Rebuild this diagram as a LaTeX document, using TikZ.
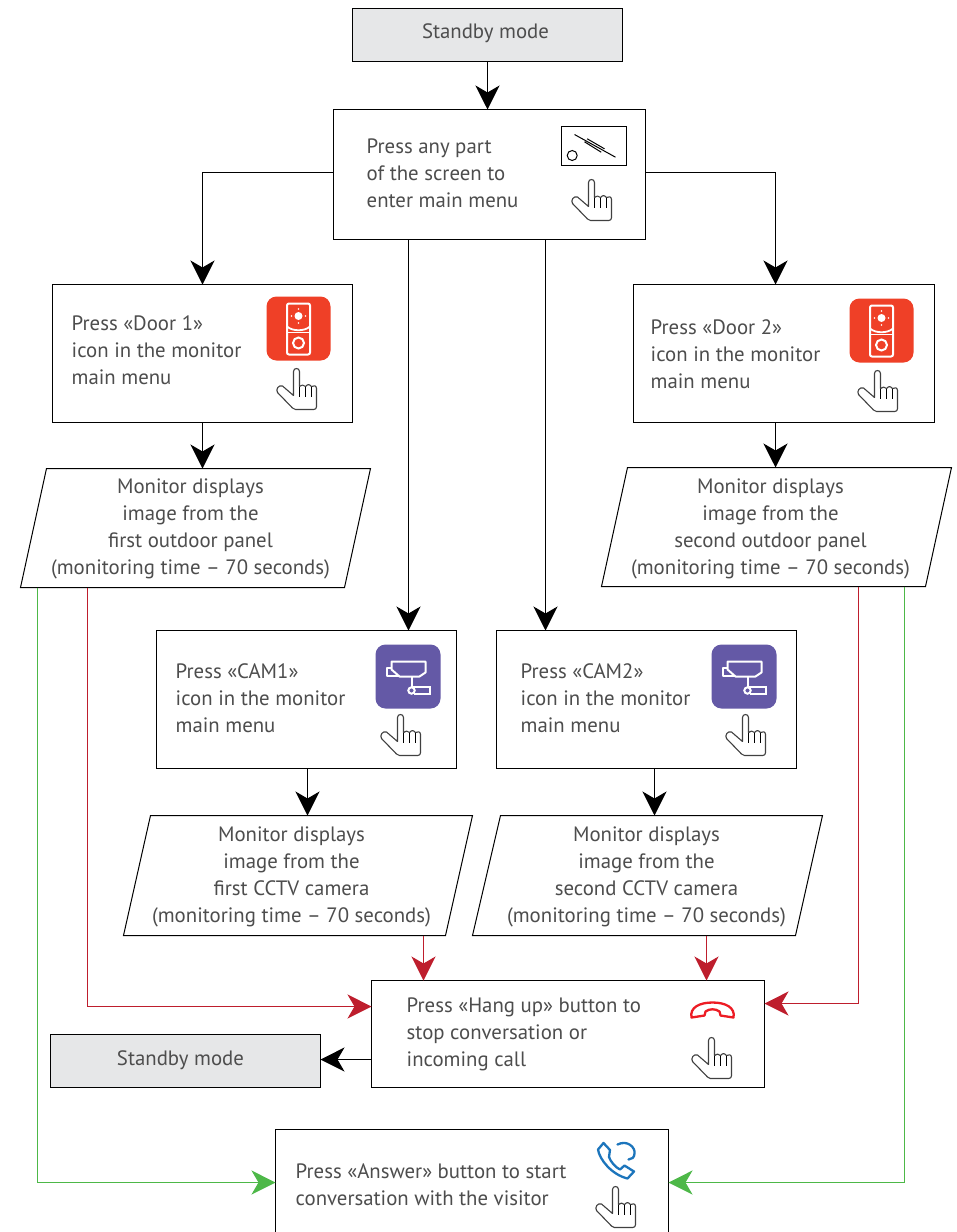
\documentclass[tikz,border=0pt]{standalone}
\usepackage{fontspec}
\setmainfont{PT Sans}
\usetikzlibrary{arrows.meta}
\definecolor{txt}{HTML}{4D4D4D}
\definecolor{bargray}{HTML}{E6E7E8}
\definecolor{redline}{HTML}{BE1E2D}
\definecolor{greenline}{HTML}{4DB848}
\definecolor{dooricon}{HTML}{EF4027}
\definecolor{camicon}{HTML}{6459A6}
\definecolor{hangred}{HTML}{ED1C24}
\definecolor{ansblue}{HTML}{1C75BC}
\tikzset{
 x=1pt,y=-1pt,
 boxline/.style={draw=black,line width=1pt,fill=white,outer sep=0pt},
 graybox/.style={draw=black,line width=1pt,fill=bargray,outer sep=0pt},
 label/.style={text=txt,font=\fontsize{20.8}{27}\selectfont,inner sep=0pt},
 llabel/.style={label,align=left,anchor=west},
 clabel/.style={label,align=center,anchor=center},
 tip/.style={-{Stealth[length=24pt,width=24pt,inset=7pt]}},
 arrowk/.style={tip,draw=black,line width=1pt},
 arrowr/.style={tip,draw=redline,line width=1pt},
 arrowg/.style={tip,draw=greenline,line width=1pt},
 handicon/.pic={
  \draw[draw=black!75,line width=1.1pt,line join=round,fill=white]
   (17,3) .. controls (17,-1) and (23,-1) .. (23,3) -- (23,18)
   .. controls (25,16) and (27,16) .. (29,18) .. controls (31,15.5) and (33,15.5) .. (35,18)
   .. controls (37,16.5) and (40,17) .. (40,20) -- (40,38) .. controls (40,40) and (39,41) .. (37,41)
   -- (19,41) .. controls (18,41) and (17,40.5) .. (16,39.5)
   -- (1,24) .. controls (-1,21) and (2,16) .. (6,17.5) -- (17,27) -- cycle;
  \draw[draw=black,line width=1pt] (23,18) -- (23,28) (29,18) -- (29,28) (35,18) -- (35,28);
 },
 dooricn/.pic={
  \fill[dooricon,rounded corners=10pt] (0,0) rectangle (64,64);
  \draw[white,line width=2pt,rounded corners=2pt] (20.5,7) rectangle (43.5,58);
  \draw[white,line width=1.8pt] (20.5,30) .. controls (26,35) and (38,35) .. (43.5,30);
  \draw[white,line width=1.8pt] (20.5,36) -- (43.5,36);
  \fill[white] (32,19.5) circle (4);
  \fill[white] (32,12.5) circle (.8) (32,26.5) circle (.8) (25,19.5) circle (.8) (39,19.5) circle (.8);
  \draw[white,line width=2pt] (32,46.5) circle (5.5);
 },
 camicn/.pic={
  \fill[camicon,rounded corners=10pt] (0,0) rectangle (65,64);
  \draw[white,line width=2pt,line join=round] (16,17) -- (50,17) -- (50,28) -- (44,32) -- (24,32) -- (16,25) -- cycle;
  \draw[white,line width=2pt,line join=round] (16,23) -- (11,23) -- (11,31) -- (23,31);
  \draw[white,line width=2pt] (36,32) -- (36,42) (35,42) -- (54,42) -- (54,49.5) -- (38,49.5);
  \draw[white,line width=2pt] (36,46) circle (3.2);
 },
}
\begin{document}
\begin{tikzpicture}
\useasboundingbox (0,0) rectangle (957,1232);
\fill[white] (0,0) rectangle (957,1232);
\begin{scope}[shift={(-.5,-.5)}]

% rectangular boxes
\node[graybox,minimum width=270pt,minimum height=53pt,inner sep=0pt,anchor=north west] (s1) at (353,9) {};
\node[boxline,minimum width=312pt,minimum height=130pt,inner sep=0pt,anchor=north west] (press) at (334,110) {};
\node[boxline,minimum width=300pt,minimum height=138pt,inner sep=0pt,anchor=north west] (d1) at (53,285) {};
\node[boxline,minimum width=301pt,minimum height=138pt,inner sep=0pt,anchor=north west] (d2) at (634,285) {};
\node[boxline,minimum width=300pt,minimum height=138pt,inner sep=0pt,anchor=north west] (c1) at (157,631) {};
\node[boxline,minimum width=300pt,minimum height=138pt,inner sep=0pt,anchor=north west] (c2) at (497,631) {};
\node[boxline,minimum width=393pt,minimum height=107pt,inner sep=0pt,anchor=north west] (hang) at (372,981) {};
\node[graybox,minimum width=270pt,minimum height=53pt,inner sep=0pt,anchor=north west] (s2) at (51,1035) {};
\node[boxline,minimum width=393pt,minimum height=112pt,inner sep=0pt,anchor=north west] (ans) at (276,1130) {};

% parallelograms
\draw[boxline] (47,469) coordinate (m1t) -- (371,469) -- (345,588) -- (21,588) coordinate (m1b) -- cycle;
\draw[boxline] (628,468) coordinate (m2t) -- (952,468) -- (926,587) -- (602,587) coordinate (m2b) -- cycle;
\draw[boxline] (151,816) coordinate (m3t) -- (473,816) -- (446,936) -- (124,936) coordinate (m3b) -- cycle;
\draw[boxline] (501,816) coordinate (m4t) -- (823,816) -- (796,936) -- (473,936) coordinate (m4b) -- cycle;

% texts
\node[clabel] (ts1) at (486,34) {Standby mode};
\node[llabel] (tp) at (367,174) {Press any part\\of the screen to\\enter main menu};
\node[llabel] (td1) at (72,351) {Press «Door 1»\\icon in the monitor\\main menu};
\node[llabel] (td2) at (651,355) {Press «Door 2»\\icon in the monitor\\main menu};
\node[clabel] (tm1) at (191,529) {Monitor displays\\image from the\\first outdoor panel\\(monitoring time – 70 seconds)};
\node[clabel] (tm2) at (771,529) {Monitor displays\\image from the\\second outdoor panel\\(monitoring time – 70 seconds)};
\node[llabel] (tc1) at (176,699) {Press «CAM1»\\icon in the monitor\\main menu};
\node[llabel] (tc2) at (521,699) {Press «CAM2»\\icon in the monitor\\main menu};
\node[clabel] (tm3) at (292,877) {Monitor displays\\image from the\\first CCTV camera\\(monitoring time – 70 seconds)};
\node[clabel] (tm4) at (647,877) {Monitor displays\\image from the\\second CCTV camera\\(monitoring time – 70 seconds)};
\node[llabel] (th) at (407,1035) {Press «Hang up» button to\\stop conversation or\\incoming call};
\node[clabel] (ts2) at (181,1061) {Standby mode};
\node[llabel] (ta) at (296,1185) {Press «Answer» button to start\\conversation with the visitor};

% connector anchors
\coordinate (jm3) at (m3b -| 424,0);
\coordinate (jm4) at (m4b -| 707,0);
\coordinate (jm1r) at (m1b -| 88,0);
\coordinate (jm1g) at (m1b -| 38,0);
\coordinate (jm2r) at (m2b -| 859,0);
\coordinate (jm2g) at (m2b -| 905,0);
\coordinate (hangl) at (372,1007);
\coordinate (hangr) at (765,1004);
\coordinate (ansl) at (276,1183);
\coordinate (ansr) at (669,1183);

% black connectors
\draw[arrowk] (s1.south -| 488,0) -- (press.north -| 488,0);
\draw[arrowk] (press.west |- 0,173) -| (d1.north -| 203,0);
\draw[arrowk] (press.east |- 0,173) -| (d2.north -| 776,0);
\draw[arrowk] (press.south -| 409,0) -- (c1.north -| 409,0);
\draw[arrowk] (press.south -| 546,0) -- (c2.north -| 546,0);
\draw[arrowk] (d1.south -| 203,0) -- (m1t -| 203,0);
\draw[arrowk] (d2.south -| 776,0) -- (m2t -| 776,0);
\draw[arrowk] (c1.south -| 308,0) -- (m3t -| 308,0);
\draw[arrowk] (c2.south -| 655,0) -- (m4t -| 655,0);
\draw[arrowk] (hang.west |- 0,1060) -- (s2.east |- 0,1060);
% red connectors
\draw[arrowr] (jm3) -- (hang.north -| 424,0);
\draw[arrowr] (jm4) -- (hang.north -| 707,0);
\draw[arrowr] (jm1r) |- (hangl);
\draw[arrowr] (jm2r) |- (hangr);
% green connectors
\draw[arrowg] (jm1g) |- (ansl);
\draw[arrowg] (jm2g) |- (ansr);

% screen icon
\draw[black,line width=1pt] (562,127) rectangle (627,166);
\draw[black,line width=1pt] (572.7,156) circle (5);
\draw[black,line width=1pt] (575,135) -- (616,157.7) (587.7,139.3) -- (605,149.3) (585,142.3) -- (601.7,152.7);

% door and camera icons
\pic at (267,297) {dooricn};
\pic at (850,299) {dooricn};
\pic at (376,645) {camicn};
\pic at (712,645) {camicn};

% hang up icon
\draw[hangred,line width=2.3pt,line join=round]
 (692,1018) .. controls (690,1008) and (700,1003) .. (713,1003)
 .. controls (726,1003) and (736,1008) .. (734,1018)
 -- (721,1016) -- (720,1012) .. controls (716,1009) and (710,1009) .. (706,1012)
 -- (705,1016) -- cycle;

% answer icon
\draw[ansblue,line width=2.3pt,line join=round]
 (604,1143.5) -- (598.5,1150) .. controls (600,1160) and (612,1175) .. (628,1179)
 -- (634.5,1172) -- (625,1166) -- (620.5,1170) .. controls (616,1168) and (611,1162) .. (609.5,1157.5)
 -- (610.5,1150.5) -- cycle;
\draw[ansblue,line width=2.3pt,line cap=round]
 (618,1145) .. controls (628,1140) and (636,1148) .. (635,1154) .. controls (635,1158) and (632,1160) .. (629,1160);

% hands
\pic at (572,180) {handicon};
\pic at (277,369) {handicon};
\pic at (858,371) {handicon};
\pic at (381,715) {handicon};
\pic at (726,715) {handicon};
\pic at (692,1038) {handicon};
\pic at (596,1187) {handicon};
\end{scope}
\end{tikzpicture}
\end{document}
